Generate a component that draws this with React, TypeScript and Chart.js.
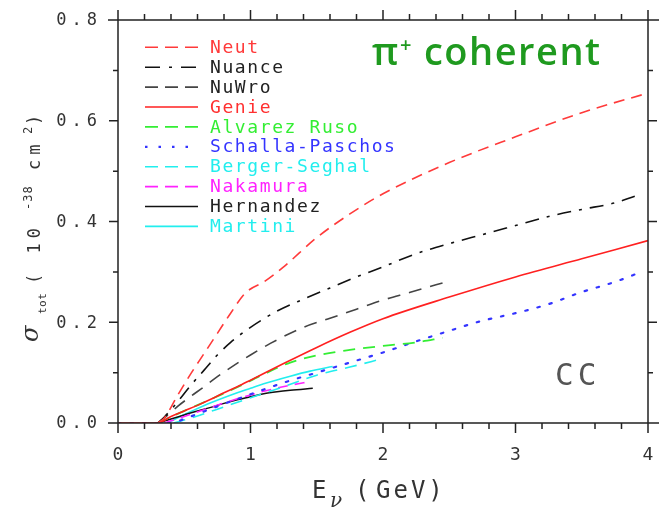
import React, { useEffect, useRef } from "react";
import { Chart, registerables } from "chart.js";
Chart.register(...registerables);

// ---- data ----
const seriesNames = ["Neut", "Nuance", "NuWro", "Genie", "Alvarez Ruso", "Schalla-Paschos", "Berger-Seghal", "Nakamura", "Hernandez", "Martini"];

const neutE = [0.3, 0.35, 0.45, 0.55, 0.65, 0.75, 0.85, 0.95, 1.0, 1.1, 1.25, 1.5, 1.75, 2.0, 2.5, 3.0, 3.5, 4.0];
const neutS = [0, 0.01, 0.055, 0.098, 0.138, 0.178, 0.218, 0.255, 0.266, 0.28, 0.31, 0.368, 0.415, 0.455, 0.517, 0.568, 0.616, 0.655];

const nuanceE = [0.3, 0.35, 0.45, 0.55, 0.65, 0.75, 0.85, 1.0, 1.2, 1.4, 1.6, 1.8, 2.0, 2.25, 2.5, 2.75, 3.0, 3.25, 3.5, 3.75, 3.9];
const nuanceS = [0, 0.012, 0.042, 0.075, 0.105, 0.135, 0.16, 0.19, 0.222, 0.246, 0.268, 0.29, 0.31, 0.336, 0.356, 0.374, 0.392, 0.41, 0.424, 0.437, 0.45];

const nuwroE = [0.3, 0.35, 0.45, 0.55, 0.65, 0.75, 0.85, 1.0, 1.15, 1.4, 1.6, 1.8, 2.0, 2.2, 2.5];
const nuwroS = [0, 0.01, 0.033, 0.053, 0.072, 0.092, 0.11, 0.135, 0.158, 0.19, 0.208, 0.226, 0.244, 0.259, 0.282];

const genieE = [0, 0.3, 0.4, 0.5, 0.6, 0.7, 0.8, 0.9, 1.0, 1.25, 1.5, 1.75, 2.0, 2.5, 3.0, 3.5, 4.0];
const genieS = [0, 0, 0.013, 0.024, 0.035, 0.047, 0.06, 0.072, 0.085, 0.118, 0.15, 0.18, 0.207, 0.25, 0.29, 0.326, 0.362];

const alvarezE = [0.3, 0.4, 0.5, 0.7, 0.9, 1.1, 1.3, 1.5, 1.75, 2.0, 2.25, 2.45];
const alvarezS = [0, 0.012, 0.024, 0.047, 0.071, 0.097, 0.12, 0.134, 0.145, 0.153, 0.16, 0.169];

const schallaE = [0, 0.4, 0.5, 0.6, 0.75, 1.0, 1.25, 1.5, 1.75, 2.0, 2.25, 2.5, 2.75, 3.0, 3.25, 3.5, 3.75, 3.95];
const schallaS = [0, 0, 0.008, 0.018, 0.033, 0.057, 0.08, 0.1, 0.12, 0.14, 0.162, 0.183, 0.203, 0.218, 0.236, 0.26, 0.28, 0.3];

const bergerE = [0.42, 0.5, 0.6, 0.8, 1.0, 1.25, 1.5, 1.75, 2.0];
const bergerS = [0, 0.006, 0.014, 0.032, 0.05, 0.072, 0.095, 0.111, 0.128];

const nakamuraE = [0.35, 0.5, 0.7, 0.9, 1.1, 1.3, 1.45];
const nakamuraS = [0, 0.013, 0.031, 0.048, 0.063, 0.075, 0.082];

const hernandezE = [0.3, 0.4, 0.5, 0.6, 0.7, 0.8, 0.9, 1.0, 1.1, 1.2, 1.3, 1.47];
const hernandezS = [0, 0.008, 0.016, 0.024, 0.031, 0.039, 0.046, 0.052, 0.058, 0.062, 0.065, 0.069];

const martiniE = [0.2, 0.35, 0.5, 0.7, 0.9, 1.0, 1.1, 1.3, 1.45, 1.62];
const martiniS = [0, 0, 0.017, 0.04, 0.06, 0.069, 0.078, 0.093, 0.103, 0.112];

const xTickLabels = ["0", "1", "2", "3", "4"];
const yTickLabels = ["0.0", "0.2", "0.4", "0.6", "0.8"];

// ---- styles ----
const seriesX = [neutE, nuanceE, nuwroE, genieE, alvarezE, schallaE, bergerE, nakamuraE, hernandezE, martiniE];
const seriesY = [neutS, nuanceS, nuwroS, genieS, alvarezS, schallaS, bergerS, nakamuraS, hernandezS, martiniS];
const lineColors = ["#ff3a3a", "#111111", "#444444", "#ff2020", "#33ee33", "#3434ff", "#22eeee", "#ff22ff", "#111111", "#22eeee"];
const textColors = ["#ff3a3a", "#222222", "#222222", "#ff3030", "#33ee33", "#3434ff", "#22eeee", "#ff22ff", "#222222", "#22eeee"];
const dashes: number[][] = [[11, 7], [14, 8, 3, 8], [13, 9], [], [12, 8], [2.5, 10], [12, 8], [10, 7], [], []];
const legendDashes: number[][] = [[13, 7], [15, 9, 3, 9], [13, 7], [], [13, 7], [2.5, 11], [13, 7], [13, 7], [], []];
const widths = [1.6, 1.6, 1.6, 1.6, 1.8, 2.2, 1.6, 1.6, 1.5, 1.6];

const MONO = '"DejaVu Sans Mono"';

function setLS(ctx: any, v: number) {
  try { ctx.letterSpacing = v + "px"; } catch (e) {}
}

const decorPlugin = {
  id: "decor",
  afterDraw(chart: any) {
    const ctx = chart.ctx;
    const xs = chart.scales.x;
    const ys = chart.scales.y;
    const ca = chart.chartArea;
    const L = ca.left, R = ca.right, T = ca.top, B = ca.bottom;
    ctx.save();
    ctx.strokeStyle = "#222";
    ctx.lineWidth = 1.5;
    ctx.setLineDash([]);
    ctx.beginPath();
    ctx.moveTo(108, T); ctx.lineTo(659, T);
    ctx.moveTo(108, B); ctx.lineTo(659, B);
    ctx.moveTo(L, T); ctx.lineTo(L, B);
    ctx.moveTo(R, T); ctx.lineTo(R, B);
    for (let i = 0; i <= 20; i++) {
      const v = i * 0.2;
      const px = xs.getPixelForValue(v);
      const len = i % 5 === 0 ? 10 : 6;
      ctx.moveTo(px, B); ctx.lineTo(px, B + len);
      ctx.moveTo(px, T); ctx.lineTo(px, T - len);
    }
    for (let i = 0; i <= 8; i++) {
      const v = i * 0.1;
      const py = ys.getPixelForValue(v);
      const len = i % 2 === 0 ? 9 : 5;
      ctx.moveTo(L, py); ctx.lineTo(L - len, py);
      ctx.moveTo(R, py); ctx.lineTo(R + len, py);
    }
    ctx.stroke();

    // tick labels
    ctx.fillStyle = "#333";
    ctx.font = `18px ${MONO}`;
    ctx.textBaseline = "alphabetic";
    ctx.textAlign = "center";
    setLS(ctx, 0);
    xTickLabels.forEach((t) => {
      ctx.fillText(t, xs.getPixelForValue(parseFloat(t)), 460);
    });
    ctx.font = `17px ${MONO}`;
    ctx.textAlign = "right";
    ctx.textBaseline = "middle";
    setLS(ctx, 5);
    yTickLabels.forEach((t) => {
      ctx.fillText(t, 97 + 5, ys.getPixelForValue(parseFloat(t)) + 1);
    });

    // x title
    ctx.textAlign = "left";
    ctx.textBaseline = "alphabetic";
    setLS(ctx, 0);
    ctx.font = `24px ${MONO}`;
    ctx.fillText("E", 312, 498);
    ctx.font = `italic 20px "DejaVu Serif"`;
    ctx.fillText("\u03BD", 330, 507);
    ctx.font = `24px ${MONO}`;
    ctx.fillText("(", 355, 498);
    setLS(ctx, 3);
    ctx.fillText("GeV)", 376, 498);

    // y title (rotated)
    ctx.save();
    ctx.translate(40, 0);
    ctx.rotate(-Math.PI / 2);
    setLS(ctx, 0);
    ctx.font = `italic 24px "DejaVu Serif"`;
    ctx.fillText("\u03C3", -342, -2);
    ctx.font = `11px ${MONO}`;
    setLS(ctx, 0.5);
    ctx.fillText("tot", -314, 6);
    ctx.font = `17px ${MONO}`;
    setLS(ctx, 5);
    ctx.fillText("( 10", -284, 0);
    ctx.font = `12px ${MONO}`;
    setLS(ctx, 1);
    ctx.fillText("-38", -210, -8);
    ctx.font = `17px ${MONO}`;
    setLS(ctx, 5);
    ctx.fillText("cm", -170, 0);
    ctx.font = `12px ${MONO}`;
    setLS(ctx, 0);
    ctx.fillText("2", -134, -8);
    ctx.font = `17px ${MONO}`;
    ctx.fillText(")", -125, 0);
    ctx.restore();

    // legend
    setLS(ctx, 1.6);
    ctx.font = `18px ${MONO}`;
    ctx.textBaseline = "middle";
    seriesNames.forEach((name, i) => {
      const y = 47.3 + i * 19.9;
      ctx.strokeStyle = lineColors[i];
      ctx.lineWidth = widths[i];
      ctx.setLineDash(legendDashes[i]);
      ctx.beginPath();
      ctx.moveTo(145, y); ctx.lineTo(198, y);
      ctx.stroke();
      ctx.fillStyle = textColors[i];
      ctx.fillText(name, 210, y + 1);
    });
    ctx.setLineDash([]);

    // title
    ctx.textBaseline = "alphabetic";
    ctx.fillStyle = "#1f9a1f";
    setLS(ctx, 0);
    ctx.font = `600 38px "Open Sans"`;
    ctx.fillText("\u03C0", 372, 65);
    ctx.font = `600 20px "Open Sans"`;
    ctx.fillText("+", 400, 52);
    ctx.font = `600 38px "Open Sans"`;
    setLS(ctx, 1.5);
    ctx.fillText("coherent", 424, 65);

    // CC
    ctx.fillStyle = "#555";
    ctx.font = `31px ${MONO}`;
    setLS(ctx, 4);
    ctx.fillText("CC", 555, 385);
    setLS(ctx, 0);
    ctx.restore();
  },
};

export default function App() {
  const ref = useRef<HTMLCanvasElement | null>(null);
  useEffect(() => {
    document.body.style.margin = "0";
    const canvas = ref.current!;
    const datasets = seriesNames.map((name, i) => ({
      label: name,
      data: seriesX[i].map((x, j) => ({ x, y: seriesY[i][j] })),
      borderColor: lineColors[i],
      borderWidth: widths[i],
      borderDash: dashes[i],
      borderCapStyle: i === 5 ? "round" : "butt",
      pointRadius: 0,
      fill: false,
      cubicInterpolationMode: "monotone",
    }));
    const chart = new Chart(canvas, {
      type: "line",
      data: { datasets: datasets as any },
      options: {
        animation: false,
        responsive: false,
        maintainAspectRatio: false,
        layout: { padding: { top: 20, right: 11, left: 0, bottom: 0 } },
        plugins: { legend: { display: false }, tooltip: { enabled: false } },
        scales: {
          x: {
            type: "linear", min: 0, max: 4,
            grid: { display: false }, border: { display: false }, ticks: { display: false },
            afterFit: (s: any) => { s.height = 85; },
          },
          y: {
            type: "linear", min: 0, max: 0.8,
            grid: { display: false }, border: { display: false }, ticks: { display: false },
            afterFit: (s: any) => { s.width = 118; },
          },
        },
      } as any,
      plugins: [decorPlugin],
    });
    return () => chart.destroy();
  }, []);
  return (
    <div style={{ position: "absolute", left: 0, top: 0, width: 659, height: 508, background: "#fff" }}>
      <canvas ref={ref} width={659} height={508} style={{ display: "block", width: 659, height: 508 }} />
    </div>
  );
}
